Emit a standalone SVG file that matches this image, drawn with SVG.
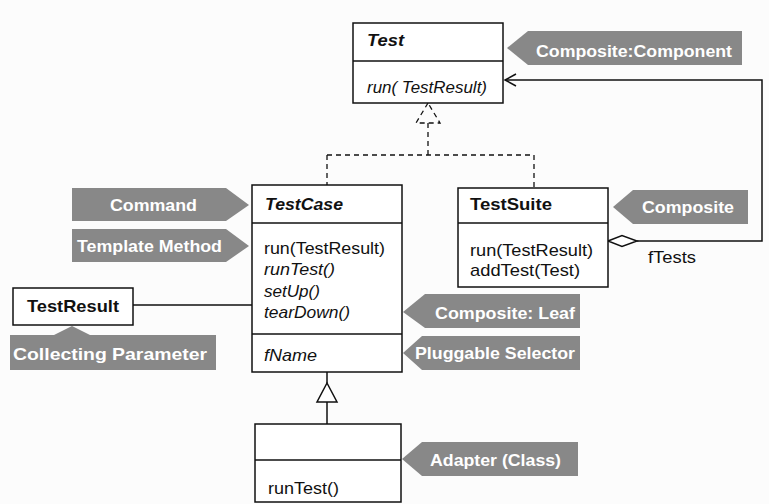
<svg xmlns="http://www.w3.org/2000/svg" width="769" height="504" viewBox="0 0 769 504">
<style>
text{font-family:"Liberation Sans",Arial,sans-serif;font-size:17px;fill:#111}
.box{fill:#fff;stroke:#111;stroke-width:1.5}
.div{stroke:#111;stroke-width:1.5}
.b{font-weight:bold}
.i{font-style:italic}
.co{fill:#888;stroke:none}
.ct{fill:#fff;font-weight:bold;font-size:17px}
.ln{fill:none;stroke:#111;stroke-width:1.5}
.dash{fill:none;stroke:#111;stroke-width:1.3;stroke-dasharray:5,4}
</style>
<rect width="769" height="504" fill="#fcfcfc"/>

<g id="connectors">
<polygon class="dash" points="428,103 416,123 440,123"/>
<path class="dash" d="M428,123 V155 M327,155 H534 M327,155 V185 M534,155 V188"/>
<path class="ln" d="M637,241 H762 V80 H505"/>
<path class="ln" d="M516,74 L505,80 L516,86"/>
<polygon class="ln" points="608,241 622,235.5 637,241 622,246.5" style="fill:#fff"/>
<text x="648" y="263" textLength="48" lengthAdjust="spacingAndGlyphs">fTests</text>
<path class="ln" d="M133,305 H252"/>
<path class="ln" d="M327,372 V383 M327,402 V424"/>
<polygon class="ln" points="327,383 317,402 337,402" style="fill:#fff"/>
</g>

<g id="Test">
<rect class="box" x="353" y="23" width="150" height="80"/>
<line class="div" x1="353" y1="61" x2="503" y2="61"/>
<text class="b i" x="367" y="46" textLength="37" lengthAdjust="spacingAndGlyphs">Test</text>
<text class="i" x="367" y="93" textLength="120" lengthAdjust="spacingAndGlyphs">run( TestResult)</text>
</g>

<g id="TestCase">
<rect class="box" x="252" y="185" width="150" height="187"/>
<line class="div" x1="252" y1="223" x2="402" y2="223"/>
<line class="div" x1="252" y1="334" x2="402" y2="334"/>
<text class="b i" x="265" y="210" textLength="78" lengthAdjust="spacingAndGlyphs">TestCase</text>
<text x="264" y="254" textLength="121" lengthAdjust="spacingAndGlyphs">run(TestResult)</text>
<text class="i" x="264" y="275" textLength="71" lengthAdjust="spacingAndGlyphs">runTest()</text>
<text class="i" x="264" y="297" textLength="56" lengthAdjust="spacingAndGlyphs">setUp()</text>
<text class="i" x="264" y="318" textLength="86" lengthAdjust="spacingAndGlyphs">tearDown()</text>
<text class="i" x="264" y="361" textLength="53" lengthAdjust="spacingAndGlyphs">fName</text>
</g>

<g id="TestSuite">
<rect class="box" x="458" y="188" width="150" height="99"/>
<line class="div" x1="458" y1="223" x2="608" y2="223"/>
<text class="b" x="470" y="210" textLength="82" lengthAdjust="spacingAndGlyphs">TestSuite</text>
<text x="470" y="256" textLength="123" lengthAdjust="spacingAndGlyphs">run(TestResult)</text>
<text x="470" y="276" textLength="110" lengthAdjust="spacingAndGlyphs">addTest(Test)</text>
</g>

<g id="TestResult">
<rect class="box" x="13" y="288" width="120" height="37"/>
<text class="b" x="27" y="312" textLength="92" lengthAdjust="spacingAndGlyphs">TestResult</text>
</g>

<g id="Adaptee">
<rect class="box" x="255" y="424" width="146" height="78"/>
<line class="div" x1="255" y1="460" x2="401" y2="460"/>
<text x="268" y="494" textLength="71" lengthAdjust="spacingAndGlyphs">runTest()</text>
</g>

<g id="callout-composite-component">
<polygon class="co" points="507,48 528,31 742,31 742,65 528,65"/>
<text class="ct" x="536" y="57" textLength="196" lengthAdjust="spacingAndGlyphs">Composite:Component</text>
</g>
<g id="callout-command">
<polygon class="co" points="72,188 226,188 249,205 226,221 72,221"/>
<text class="ct" x="110" y="211" textLength="87" lengthAdjust="spacingAndGlyphs">Command</text>
</g>
<g id="callout-template-method">
<polygon class="co" points="72,229 226,229 249,246 226,262 72,262"/>
<text class="ct" x="77" y="252" textLength="145" lengthAdjust="spacingAndGlyphs">Template Method</text>
</g>
<g id="callout-collecting-parameter">
<polygon class="co" points="10,335 54,335 72,326 90,335 216,335 216,370 10,370"/>
<text class="ct" x="13" y="360" textLength="194" lengthAdjust="spacingAndGlyphs">Collecting Parameter</text>
</g>
<g id="callout-composite">
<polygon class="co" points="613,207 633,190 748,190 748,224 633,224"/>
<text class="ct" x="642" y="213" textLength="92" lengthAdjust="spacingAndGlyphs">Composite</text>
</g>
<g id="callout-composite-leaf">
<polygon class="co" points="403,312 425,294 580,294 580,328 425,328"/>
<text class="ct" x="435" y="319" textLength="140" lengthAdjust="spacingAndGlyphs">Composite: Leaf</text>
</g>
<g id="callout-pluggable-selector">
<polygon class="co" points="403,353 422,336 580,336 580,370 422,370"/>
<text class="ct" x="415" y="359" textLength="160" lengthAdjust="spacingAndGlyphs">Pluggable Selector</text>
</g>
<g id="callout-adapter">
<polygon class="co" points="402,459 422,442 578,442 578,476 422,476"/>
<text class="ct" x="430" y="466" textLength="131" lengthAdjust="spacingAndGlyphs">Adapter (Class)</text>
</g>
</svg>
